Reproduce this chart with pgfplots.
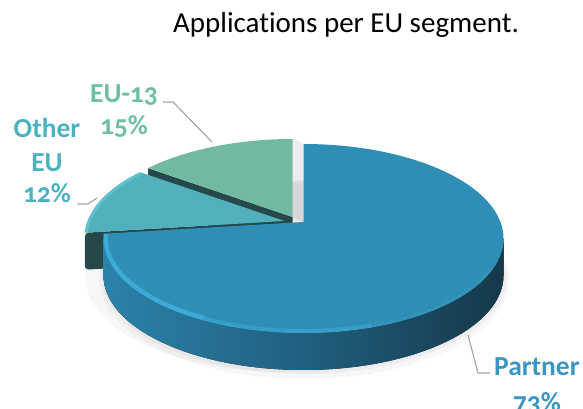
\documentclass[border=0pt]{standalone}
\usepackage{pgfplots}
\pgfplotsset{compat=1.18}
\usepackage{fontspec}
\setmainfont{Carlito}[Ligatures=NoCommon]
\newfontfamily\lblfont{Carlito}[Ligatures=NoCommon,Numbers=OldStyle]
\definecolor{partnerTop}{HTML}{2E8EB6}
\definecolor{partnerRim}{HTML}{3FB0DD}
\definecolor{otherTop}{HTML}{52B0BC}
\definecolor{otherRim}{HTML}{62C6D3}
\definecolor{euTop}{HTML}{72B9A2}
\definecolor{darkFace}{HTML}{25494A}
\definecolor{sideL}{HTML}{2C82AB}
\definecolor{sideM}{HTML}{205F7F}
\definecolor{sideR}{HTML}{153849}
\definecolor{partnerLbl}{HTML}{3896C2}
\definecolor{otherLbl}{HTML}{4DB2BF}
\definecolor{euLbl}{HTML}{6DBF9F}
\definecolor{leader}{HTML}{A6A6A6}
\begin{document}%
\begin{tikzpicture}
% ---- data (percent) ----
\def\vEUt{15}\def\vOther{12}\def\vPartner{73}
% ---- pie geometry (perspective 3D pie) ----
\def\pp{0.088}
\def\rx{200}\def\ry{94.5}\def\D{37}
\pgfmathsetmacro\aB{90+3.6*\vEUt}
\pgfmathsetmacro\aC{\aB+3.6*\vOther}
\pgfmathsetmacro\tB{atan2(sin(\aB)+\pp,cos(\aB))-atan2(-\pp*cos(\aB),1+\pp*sin(\aB))}
\pgfmathsetmacro\tCraw{atan2(sin(\aC)+\pp,cos(\aC))-atan2(-\pp*cos(\aC),1+\pp*sin(\aC))}
\pgfmathsetmacro\tC{mod(\tCraw+720,360)}
\pgfmathsetmacro\tCm{\tC-360}
% centres / apexes (y up)
\def\CPx{303.5}\def\CPy{170.5}\def\APy{187}
\def\COx{284.5}\def\COy{171.5}\def\AOy{188}
\def\CEx{292.5}\def\CEy{175.5}\def\AEy{192}
\pgfmathsetmacro\xEB{\CEx+\rx*cos(\tB)}\pgfmathsetmacro\yEB{\CEy+\ry*sin(\tB)}
\pgfmathsetmacro\xOB{\COx+\rx*cos(\tB)}\pgfmathsetmacro\yOB{\COy+\ry*sin(\tB)}
\pgfmathsetmacro\xOC{\COx+\rx*cos(\tC)}\pgfmathsetmacro\yOC{\COy+\ry*sin(\tC)}
\pgfmathsetmacro\xPC{\CPx+\rx*cos(\tC)}\pgfmathsetmacro\yPC{\CPy+\ry*sin(\tC)}
\begin{axis}[width=583bp,height=409bp,scale only axis,at={(0,0)},anchor=south west,
  xmin=0,xmax=583,ymin=0,ymax=409,hide axis,clip=false]
% shadows
\fill[black,opacity=0.03] (axis cs:{\CPx+1},{\CPy-\D-4}) ellipse[x radius=\rx bp+5bp,y radius=\ry bp+5bp];
\fill[black,opacity=0.04] (axis cs:{\CPx+1},{\CPy-\D-2}) ellipse[x radius=\rx bp+2bp,y radius=\ry bp+2bp];
\fill[black,opacity=0.03] (axis cs:{\COx+1},{\COy-\D-3}) ellipse[x radius=\rx bp,y radius=\ry bp];
\fill[black,opacity=0.07] (axis cs:293,271) -- (axis cs:303.5,265) -- (axis cs:303.5,187) -- (axis cs:293,192) -- cycle;
% EU-13
\fill[darkFace] (axis cs:\CEx,\AEy) -- (axis cs:\xEB,\yEB) -- (axis cs:\xEB,{\yEB-\D}) -- (axis cs:\CEx,{\AEy-\D}) -- cycle;
\fill[euTop] (axis cs:\CEx,\AEy) -- (axis cs:\CEx,{\CEy+\ry}) arc[start angle=90,end angle=\tB,x radius=\rx bp,y radius=\ry bp] -- cycle;
% Other EU
\fill[darkFace,rounded corners=4bp] (axis cs:\COx,\AOy) -- (axis cs:\xOC,\yOC) -- (axis cs:\xOC,{\yOC-\D}) -- (axis cs:\COx,{\AOy-\D}) -- cycle;
\fill[otherTop] (axis cs:\COx,\AOy) -- (axis cs:\xOB,\yOB) arc[start angle=\tB,end angle=\tC,x radius=\rx bp,y radius=\ry bp] -- cycle;
\begin{scope}
\clip (axis cs:\COx,\AOy) -- (axis cs:\xOB,\yOB) arc[start angle=\tB,end angle=\tC,x radius=\rx bp,y radius=\ry bp] -- cycle;
\draw[otherRim,line width=6bp,opacity=0.8] (axis cs:\xOB,\yOB) arc[start angle=\tB,end angle=\tC,x radius=\rx bp,y radius=\ry bp];
\end{scope}
% Partner side wall
\fill[left color=sideL,right color=sideR,middle color=sideM] (axis cs:{\CPx-\rx},\CPy) arc[start angle=180,end angle=360,x radius=\rx bp,y radius=\ry bp] -- (axis cs:{\CPx+\rx},{\CPy-\D}) arc[start angle=0,end angle=-180,x radius=\rx bp,y radius=\ry bp] -- cycle;
% Partner top
\fill[partnerTop] (axis cs:\CPx,\APy) -- (axis cs:\CPx,{\CPy+\ry}) arc[start angle=90,end angle=\tCm,x radius=\rx bp,y radius=\ry bp] -- cycle;
\begin{scope}
\clip (axis cs:\CPx,\APy) -- (axis cs:\CPx,{\CPy+\ry}) arc[start angle=90,end angle=\tCm,x radius=\rx bp,y radius=\ry bp] -- cycle;
\draw[partnerRim,line width=9bp,opacity=0.85] (axis cs:\xPC,\yPC) arc[start angle=\tCm,end angle=-120,x radius=\rx bp,y radius=\ry bp];
\draw[partnerRim,line width=8bp,opacity=0.5] (axis cs:{\CPx+\rx*cos(-120)},{\CPy+\ry*sin(-120)}) arc[start angle=-120,end angle=-70,x radius=\rx bp,y radius=\ry bp];
\draw[partnerRim,line width=6bp,opacity=0.2] (axis cs:{\CPx+\rx*cos(-70)},{\CPy+\ry*sin(-70)}) arc[start angle=-70,end angle=-20,x radius=\rx bp,y radius=\ry bp];
\end{scope}
% leaders
\draw[leader,line width=1.2bp] (axis cs:163,307) -- (axis cs:173,307) -- (axis cs:212,267);
\draw[leader,line width=1.2bp] (axis cs:77,205) -- (axis cs:88,205) -- (axis cs:97,211);
\draw[leader,line width=1.2bp] (axis cs:468,74) -- (axis cs:478,36) -- (axis cs:490,36);
% labels
\begin{scope}[every node/.style={font=\lblfont\fontsize{27.5bp}{32bp}\bfseries\selectfont,inner sep=0pt}]
\node[euLbl,anchor=base] at (axis cs:124,306) {EU-13};
\node[euLbl,anchor=base] at (axis cs:124,274) {\vEUt\%};
\node[otherLbl,anchor=base] at (axis cs:47,271) {Other};
\node[otherLbl,anchor=base] at (axis cs:47,237) {EU};
\node[otherLbl,anchor=base] at (axis cs:47,206) {\vOther\%};
\node[partnerLbl,anchor=base west] at (axis cs:494,33) {Partner};
\node[partnerLbl,anchor=base] at (axis cs:537,-2) {\vPartner\%};
\end{scope}
\node[anchor=base,inner sep=0pt,font=\fontsize{29bp}{34bp}\selectfont] at (axis cs:346,376) {Applications per EU segment.};
\end{axis}
\pgfresetboundingbox
\path[use as bounding box] (0,0) rectangle (583bp,409bp);
\end{tikzpicture}%
\end{document}
